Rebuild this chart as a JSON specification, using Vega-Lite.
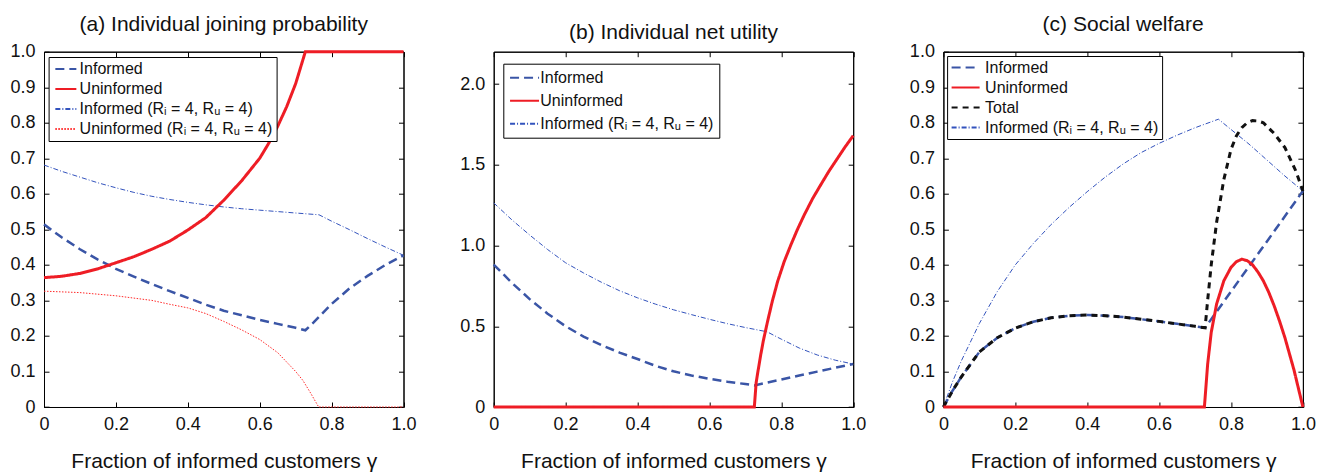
{
  "$schema": "https://vega.github.io/schema/vega-lite/v6.json",
  "padding": {"left": 9, "top": 12.7, "right": 5, "bottom": 0},
  "background": "white",
  "config": {
    "font": "Liberation Sans",
    "view": {"stroke": "#000", "strokeWidth": 1},
    "axis": {"grid": false, "domainColor": "#000", "tickColor": "#000", "labelColor": "#111", "titleColor": "#111", "labelFontSize": 18, "titleFontSize": 21, "titleFontWeight": "normal", "labelFlush": false, "labelOverlap": false, "tickSize": -5, "labelPadding": 14},
    "title": {"fontSize": 21, "fontWeight": "normal", "color": "#111", "offset": 8},
    "legend": {"title": null, "orient": "none", "strokeColor": "#000", "fillColor": "#fff", "padding": 4, "labelFontSize": 16, "labelColor": "#111", "symbolType": "M-1,0H3", "labelLimit": 320, "cornerRadius": 0, "rowPadding": 4, "symbolStrokeWidth": 2}
  },
  "datasets": {
    "a": [
      {"series": "Informed (Rᵢ = 4, Rᵤ = 4)", "x": 0, "y": 0.681}, {"series": "Informed (Rᵢ = 4, Rᵤ = 4)", "x": 0.05, "y": 0.663}, {"series": "Informed (Rᵢ = 4, Rᵤ = 4)", "x": 0.1, "y": 0.647}, {"series": "Informed (Rᵢ = 4, Rᵤ = 4)", "x": 0.15, "y": 0.631}, {"series": "Informed (Rᵢ = 4, Rᵤ = 4)", "x": 0.2, "y": 0.617}, {"series": "Informed (Rᵢ = 4, Rᵤ = 4)", "x": 0.25, "y": 0.604}, {"series": "Informed (Rᵢ = 4, Rᵤ = 4)", "x": 0.3, "y": 0.593}, {"series": "Informed (Rᵢ = 4, Rᵤ = 4)", "x": 0.35, "y": 0.584}, {"series": "Informed (Rᵢ = 4, Rᵤ = 4)", "x": 0.4, "y": 0.576}, {"series": "Informed (Rᵢ = 4, Rᵤ = 4)", "x": 0.45, "y": 0.569}, {"series": "Informed (Rᵢ = 4, Rᵤ = 4)", "x": 0.5, "y": 0.563}, {"series": "Informed (Rᵢ = 4, Rᵤ = 4)", "x": 0.55, "y": 0.558}, {"series": "Informed (Rᵢ = 4, Rᵤ = 4)", "x": 0.6, "y": 0.554}, {"series": "Informed (Rᵢ = 4, Rᵤ = 4)", "x": 0.65, "y": 0.55}, {"series": "Informed (Rᵢ = 4, Rᵤ = 4)", "x": 0.7, "y": 0.546}, {"series": "Informed (Rᵢ = 4, Rᵤ = 4)", "x": 0.765, "y": 0.541}, {"series": "Informed (Rᵢ = 4, Rᵤ = 4)", "x": 0.8, "y": 0.523}, {"series": "Informed (Rᵢ = 4, Rᵤ = 4)", "x": 0.85, "y": 0.499}, {"series": "Informed (Rᵢ = 4, Rᵤ = 4)", "x": 0.9, "y": 0.474}, {"series": "Informed (Rᵢ = 4, Rᵤ = 4)", "x": 0.95, "y": 0.45}, {"series": "Informed (Rᵢ = 4, Rᵤ = 4)", "x": 1, "y": 0.427},
      {"series": "Uninformed (Rᵢ = 4, Rᵤ = 4)", "x": 0, "y": 0.326}, {"series": "Uninformed (Rᵢ = 4, Rᵤ = 4)", "x": 0.1, "y": 0.322}, {"series": "Uninformed (Rᵢ = 4, Rᵤ = 4)", "x": 0.2, "y": 0.313}, {"series": "Uninformed (Rᵢ = 4, Rᵤ = 4)", "x": 0.3, "y": 0.3}, {"series": "Uninformed (Rᵢ = 4, Rᵤ = 4)", "x": 0.35, "y": 0.289}, {"series": "Uninformed (Rᵢ = 4, Rᵤ = 4)", "x": 0.4, "y": 0.279}, {"series": "Uninformed (Rᵢ = 4, Rᵤ = 4)", "x": 0.45, "y": 0.263}, {"series": "Uninformed (Rᵢ = 4, Rᵤ = 4)", "x": 0.5, "y": 0.241}, {"series": "Uninformed (Rᵢ = 4, Rᵤ = 4)", "x": 0.55, "y": 0.217}, {"series": "Uninformed (Rᵢ = 4, Rᵤ = 4)", "x": 0.6, "y": 0.19}, {"series": "Uninformed (Rᵢ = 4, Rᵤ = 4)", "x": 0.65, "y": 0.153}, {"series": "Uninformed (Rᵢ = 4, Rᵤ = 4)", "x": 0.7, "y": 0.1}, {"series": "Uninformed (Rᵢ = 4, Rᵤ = 4)", "x": 0.72, "y": 0.075}, {"series": "Uninformed (Rᵢ = 4, Rᵤ = 4)", "x": 0.74, "y": 0.042}, {"series": "Uninformed (Rᵢ = 4, Rᵤ = 4)", "x": 0.764, "y": 0}, {"series": "Uninformed (Rᵢ = 4, Rᵤ = 4)", "x": 0.85, "y": 0}, {"series": "Uninformed (Rᵢ = 4, Rᵤ = 4)", "x": 1, "y": 0},
      {"series": "Informed", "x": 0, "y": 0.514}, {"series": "Informed", "x": 0.05, "y": 0.477}, {"series": "Informed", "x": 0.1, "y": 0.444}, {"series": "Informed", "x": 0.15, "y": 0.415}, {"series": "Informed", "x": 0.2, "y": 0.389}, {"series": "Informed", "x": 0.25, "y": 0.367}, {"series": "Informed", "x": 0.3, "y": 0.346}, {"series": "Informed", "x": 0.35, "y": 0.326}, {"series": "Informed", "x": 0.4, "y": 0.307}, {"series": "Informed", "x": 0.45, "y": 0.288}, {"series": "Informed", "x": 0.5, "y": 0.271}, {"series": "Informed", "x": 0.55, "y": 0.258}, {"series": "Informed", "x": 0.6, "y": 0.245}, {"series": "Informed", "x": 0.65, "y": 0.234}, {"series": "Informed", "x": 0.7, "y": 0.223}, {"series": "Informed", "x": 0.727, "y": 0.216}, {"series": "Informed", "x": 0.75, "y": 0.238}, {"series": "Informed", "x": 0.8, "y": 0.29}, {"series": "Informed", "x": 0.85, "y": 0.334}, {"series": "Informed", "x": 0.9, "y": 0.369}, {"series": "Informed", "x": 0.95, "y": 0.4}, {"series": "Informed", "x": 1, "y": 0.427},
      {"series": "Uninformed", "x": 0, "y": 0.364}, {"series": "Uninformed", "x": 0.05, "y": 0.368}, {"series": "Uninformed", "x": 0.1, "y": 0.376}, {"series": "Uninformed", "x": 0.15, "y": 0.389}, {"series": "Uninformed", "x": 0.2, "y": 0.406}, {"series": "Uninformed", "x": 0.25, "y": 0.423}, {"series": "Uninformed", "x": 0.3, "y": 0.444}, {"series": "Uninformed", "x": 0.35, "y": 0.467}, {"series": "Uninformed", "x": 0.4, "y": 0.498}, {"series": "Uninformed", "x": 0.45, "y": 0.533}, {"series": "Uninformed", "x": 0.5, "y": 0.582}, {"series": "Uninformed", "x": 0.55, "y": 0.637}, {"series": "Uninformed", "x": 0.6, "y": 0.7}, {"series": "Uninformed", "x": 0.625, "y": 0.742}, {"series": "Uninformed", "x": 0.65, "y": 0.79}, {"series": "Uninformed", "x": 0.675, "y": 0.845}, {"series": "Uninformed", "x": 0.7, "y": 0.91}, {"series": "Uninformed", "x": 0.727, "y": 1}, {"series": "Uninformed", "x": 0.8, "y": 1}, {"series": "Uninformed", "x": 0.9, "y": 1}, {"series": "Uninformed", "x": 1, "y": 1}
    ],
    "b": [
      {"series": "Informed (Rᵢ = 4, Rᵤ = 4)", "x": 0, "y": 1.264}, {"series": "Informed (Rᵢ = 4, Rᵤ = 4)", "x": 0.05, "y": 1.16}, {"series": "Informed (Rᵢ = 4, Rᵤ = 4)", "x": 0.1, "y": 1.065}, {"series": "Informed (Rᵢ = 4, Rᵤ = 4)", "x": 0.15, "y": 0.975}, {"series": "Informed (Rᵢ = 4, Rᵤ = 4)", "x": 0.2, "y": 0.893}, {"series": "Informed (Rᵢ = 4, Rᵤ = 4)", "x": 0.25, "y": 0.83}, {"series": "Informed (Rᵢ = 4, Rᵤ = 4)", "x": 0.3, "y": 0.772}, {"series": "Informed (Rᵢ = 4, Rᵤ = 4)", "x": 0.35, "y": 0.72}, {"series": "Informed (Rᵢ = 4, Rᵤ = 4)", "x": 0.4, "y": 0.676}, {"series": "Informed (Rᵢ = 4, Rᵤ = 4)", "x": 0.45, "y": 0.637}, {"series": "Informed (Rᵢ = 4, Rᵤ = 4)", "x": 0.5, "y": 0.602}, {"series": "Informed (Rᵢ = 4, Rᵤ = 4)", "x": 0.55, "y": 0.572}, {"series": "Informed (Rᵢ = 4, Rᵤ = 4)", "x": 0.6, "y": 0.543}, {"series": "Informed (Rᵢ = 4, Rᵤ = 4)", "x": 0.65, "y": 0.516}, {"series": "Informed (Rᵢ = 4, Rᵤ = 4)", "x": 0.7, "y": 0.492}, {"series": "Informed (Rᵢ = 4, Rᵤ = 4)", "x": 0.76, "y": 0.466}, {"series": "Informed (Rᵢ = 4, Rᵤ = 4)", "x": 0.8, "y": 0.42}, {"series": "Informed (Rᵢ = 4, Rᵤ = 4)", "x": 0.85, "y": 0.365}, {"series": "Informed (Rᵢ = 4, Rᵤ = 4)", "x": 0.9, "y": 0.322}, {"series": "Informed (Rᵢ = 4, Rᵤ = 4)", "x": 0.95, "y": 0.29}, {"series": "Informed (Rᵢ = 4, Rᵤ = 4)", "x": 1, "y": 0.266},
      {"series": "Informed", "x": 0, "y": 0.882}, {"series": "Informed", "x": 0.05, "y": 0.77}, {"series": "Informed", "x": 0.1, "y": 0.668}, {"series": "Informed", "x": 0.15, "y": 0.578}, {"series": "Informed", "x": 0.2, "y": 0.5}, {"series": "Informed", "x": 0.25, "y": 0.436}, {"series": "Informed", "x": 0.3, "y": 0.383}, {"series": "Informed", "x": 0.35, "y": 0.337}, {"series": "Informed", "x": 0.4, "y": 0.297}, {"series": "Informed", "x": 0.45, "y": 0.255}, {"series": "Informed", "x": 0.5, "y": 0.221}, {"series": "Informed", "x": 0.55, "y": 0.195}, {"series": "Informed", "x": 0.6, "y": 0.175}, {"series": "Informed", "x": 0.65, "y": 0.157}, {"series": "Informed", "x": 0.7, "y": 0.142}, {"series": "Informed", "x": 0.725, "y": 0.134}, {"series": "Informed", "x": 0.8, "y": 0.17}, {"series": "Informed", "x": 0.85, "y": 0.195}, {"series": "Informed", "x": 0.9, "y": 0.219}, {"series": "Informed", "x": 0.95, "y": 0.243}, {"series": "Informed", "x": 1, "y": 0.266},
      {"series": "Uninformed", "x": 0, "y": 0}, {"series": "Uninformed", "x": 0.4, "y": 0}, {"series": "Uninformed", "x": 0.725, "y": 0}, {"series": "Uninformed", "x": 0.73, "y": 0.15}, {"series": "Uninformed", "x": 0.735, "y": 0.22}, {"series": "Uninformed", "x": 0.743, "y": 0.326}, {"series": "Uninformed", "x": 0.75, "y": 0.41}, {"series": "Uninformed", "x": 0.762, "y": 0.532}, {"series": "Uninformed", "x": 0.775, "y": 0.655}, {"series": "Uninformed", "x": 0.79, "y": 0.779}, {"series": "Uninformed", "x": 0.808, "y": 0.9}, {"series": "Uninformed", "x": 0.827, "y": 1.006}, {"series": "Uninformed", "x": 0.845, "y": 1.1}, {"series": "Uninformed", "x": 0.864, "y": 1.19}, {"series": "Uninformed", "x": 0.887, "y": 1.29}, {"series": "Uninformed", "x": 0.91, "y": 1.377}, {"series": "Uninformed", "x": 0.933, "y": 1.462}, {"series": "Uninformed", "x": 0.957, "y": 1.542}, {"series": "Uninformed", "x": 0.978, "y": 1.612}, {"series": "Uninformed", "x": 1, "y": 1.68}
    ],
    "c": [
      {"series": "Informed (Rᵢ = 4, Rᵤ = 4)", "x": 0, "y": 0}, {"series": "Informed (Rᵢ = 4, Rᵤ = 4)", "x": 0.025, "y": 0.07}, {"series": "Informed (Rᵢ = 4, Rᵤ = 4)", "x": 0.05, "y": 0.13}, {"series": "Informed (Rᵢ = 4, Rᵤ = 4)", "x": 0.1, "y": 0.235}, {"series": "Informed (Rᵢ = 4, Rᵤ = 4)", "x": 0.15, "y": 0.325}, {"series": "Informed (Rᵢ = 4, Rᵤ = 4)", "x": 0.2, "y": 0.4}, {"series": "Informed (Rᵢ = 4, Rᵤ = 4)", "x": 0.25, "y": 0.46}, {"series": "Informed (Rᵢ = 4, Rᵤ = 4)", "x": 0.3, "y": 0.514}, {"series": "Informed (Rᵢ = 4, Rᵤ = 4)", "x": 0.35, "y": 0.562}, {"series": "Informed (Rᵢ = 4, Rᵤ = 4)", "x": 0.4, "y": 0.606}, {"series": "Informed (Rᵢ = 4, Rᵤ = 4)", "x": 0.45, "y": 0.647}, {"series": "Informed (Rᵢ = 4, Rᵤ = 4)", "x": 0.5, "y": 0.684}, {"series": "Informed (Rᵢ = 4, Rᵤ = 4)", "x": 0.55, "y": 0.716}, {"series": "Informed (Rᵢ = 4, Rᵤ = 4)", "x": 0.6, "y": 0.742}, {"series": "Informed (Rᵢ = 4, Rᵤ = 4)", "x": 0.65, "y": 0.765}, {"series": "Informed (Rᵢ = 4, Rᵤ = 4)", "x": 0.7, "y": 0.786}, {"series": "Informed (Rᵢ = 4, Rᵤ = 4)", "x": 0.765, "y": 0.81}, {"series": "Informed (Rᵢ = 4, Rᵤ = 4)", "x": 0.85, "y": 0.74}, {"series": "Informed (Rᵢ = 4, Rᵤ = 4)", "x": 0.9, "y": 0.695}, {"series": "Informed (Rᵢ = 4, Rᵤ = 4)", "x": 0.95, "y": 0.65}, {"series": "Informed (Rᵢ = 4, Rᵤ = 4)", "x": 1, "y": 0.608},
      {"series": "Informed", "x": 0, "y": 0}, {"series": "Informed", "x": 0.025, "y": 0.045}, {"series": "Informed", "x": 0.05, "y": 0.085}, {"series": "Informed", "x": 0.1, "y": 0.155}, {"series": "Informed", "x": 0.15, "y": 0.195}, {"series": "Informed", "x": 0.2, "y": 0.222}, {"series": "Informed", "x": 0.25, "y": 0.24}, {"series": "Informed", "x": 0.3, "y": 0.251}, {"series": "Informed", "x": 0.35, "y": 0.257}, {"series": "Informed", "x": 0.4, "y": 0.259}, {"series": "Informed", "x": 0.45, "y": 0.257}, {"series": "Informed", "x": 0.5, "y": 0.253}, {"series": "Informed", "x": 0.55, "y": 0.247}, {"series": "Informed", "x": 0.6, "y": 0.241}, {"series": "Informed", "x": 0.65, "y": 0.234}, {"series": "Informed", "x": 0.7, "y": 0.227}, {"series": "Informed", "x": 0.728, "y": 0.223}, {"series": "Informed", "x": 0.8, "y": 0.325}, {"series": "Informed", "x": 0.9, "y": 0.466}, {"series": "Informed", "x": 1, "y": 0.608},
      {"series": "Total", "x": 0, "y": 0}, {"series": "Total", "x": 0.025, "y": 0.045}, {"series": "Total", "x": 0.05, "y": 0.085}, {"series": "Total", "x": 0.1, "y": 0.155}, {"series": "Total", "x": 0.15, "y": 0.195}, {"series": "Total", "x": 0.2, "y": 0.222}, {"series": "Total", "x": 0.25, "y": 0.24}, {"series": "Total", "x": 0.3, "y": 0.251}, {"series": "Total", "x": 0.35, "y": 0.257}, {"series": "Total", "x": 0.4, "y": 0.259}, {"series": "Total", "x": 0.45, "y": 0.257}, {"series": "Total", "x": 0.5, "y": 0.253}, {"series": "Total", "x": 0.55, "y": 0.247}, {"series": "Total", "x": 0.6, "y": 0.241}, {"series": "Total", "x": 0.65, "y": 0.234}, {"series": "Total", "x": 0.7, "y": 0.227}, {"series": "Total", "x": 0.728, "y": 0.223}, {"series": "Total", "x": 0.735, "y": 0.3}, {"series": "Total", "x": 0.745, "y": 0.4}, {"series": "Total", "x": 0.76, "y": 0.52}, {"series": "Total", "x": 0.78, "y": 0.64}, {"series": "Total", "x": 0.8, "y": 0.725}, {"series": "Total", "x": 0.815, "y": 0.763}, {"series": "Total", "x": 0.83, "y": 0.786}, {"series": "Total", "x": 0.845, "y": 0.8}, {"series": "Total", "x": 0.86, "y": 0.806}, {"series": "Total", "x": 0.875, "y": 0.805}, {"series": "Total", "x": 0.89, "y": 0.8}, {"series": "Total", "x": 0.92, "y": 0.77}, {"series": "Total", "x": 0.95, "y": 0.73}, {"series": "Total", "x": 0.98, "y": 0.665}, {"series": "Total", "x": 1, "y": 0.608},
      {"series": "Uninformed", "x": 0, "y": 0}, {"series": "Uninformed", "x": 0.4, "y": 0}, {"series": "Uninformed", "x": 0.726, "y": 0}, {"series": "Uninformed", "x": 0.735, "y": 0.12}, {"series": "Uninformed", "x": 0.745, "y": 0.21}, {"series": "Uninformed", "x": 0.76, "y": 0.29}, {"series": "Uninformed", "x": 0.78, "y": 0.355}, {"series": "Uninformed", "x": 0.8, "y": 0.393}, {"series": "Uninformed", "x": 0.815, "y": 0.409}, {"series": "Uninformed", "x": 0.83, "y": 0.416}, {"series": "Uninformed", "x": 0.845, "y": 0.412}, {"series": "Uninformed", "x": 0.86, "y": 0.4}, {"series": "Uninformed", "x": 0.875, "y": 0.38}, {"series": "Uninformed", "x": 0.89, "y": 0.355}, {"series": "Uninformed", "x": 0.905, "y": 0.323}, {"series": "Uninformed", "x": 0.92, "y": 0.285}, {"series": "Uninformed", "x": 0.935, "y": 0.242}, {"series": "Uninformed", "x": 0.95, "y": 0.195}, {"series": "Uninformed", "x": 0.975, "y": 0.105}, {"series": "Uninformed", "x": 1, "y": 0}
    ]
  },
  "spacing": 89.7,
  "bounds": "flush",
  "resolve": {"scale": {"x": "independent", "y": "independent", "color": "independent", "strokeDash": "independent"}, "legend": {"color": "independent", "strokeDash": "independent"}},
  "hconcat": [
    {
      "width": 359.5, "height": 355.3,
      "title": {"text": "(a) Individual joining probability"},
      "data": {"name": "a"},
      "layer": [
        {
          "mark": {"type": "line", "strokeCap": "butt", "strokeJoin": "miter"},
          "encoding": {
            "x": {"field": "x", "type": "quantitative", "scale": {"domain": [0, 1]}, "axis": {"orient": "bottom", "values": [0, 0.2, 0.4, 0.6, 0.8, 1], "labelExpr": "datum.value == 0 ? '0' : format(datum.value, '.1f')", "title": "Fraction of informed customers γ", "titlePadding": 17, "labelPadding": 13}},
            "y": {"field": "y", "type": "quantitative", "scale": {"domain": [0, 1]}, "axis": {"orient": "left", "values": [0, 0.1, 0.2, 0.3, 0.4, 0.5, 0.6, 0.7, 0.8, 0.9, 1], "labelExpr": "datum.value == 0 ? '0' : format(datum.value, '.1f')", "title": null}},
            "color": {"field": "series", "type": "nominal", "scale": {"domain": ["Informed", "Uninformed", "Informed (Rᵢ = 4, Rᵤ = 4)", "Uninformed (Rᵢ = 4, Rᵤ = 4)"], "range": ["#3a55a6", "#ee1d25", "#3353bd", "#ff2a2a"]}, "legend": {"legendX": 4.6, "legendY": 5.3, "symbolSize": 110.25, "labelOffset": 11}},
            "strokeDash": {"field": "series", "type": "nominal", "scale": {"domain": ["Informed", "Uninformed", "Informed (Rᵢ = 4, Rᵤ = 4)", "Uninformed (Rᵢ = 4, Rᵤ = 4)"], "range": [[9, 5], [1, 0], [5, 2, 1, 2], [1.5, 1.5]]}, "legend": {"legendX": 4.6, "legendY": 5.3, "symbolSize": 110.25, "labelOffset": 11}},
            "strokeWidth": {"condition": [{"test": "indexof(datum.series, '(') >= 0", "value": 1}, {"test": "datum.series == 'Informed'", "value": 2.5}], "value": 3}
          }
        },
        {
          "mark": {"type": "line", "opacity": 0},
          "encoding": {
            "x": {"field": "x", "type": "quantitative", "scale": {"domain": [0, 1]}, "axis": {"orient": "top", "values": [0, 0.2, 0.4, 0.6, 0.8, 1], "labels": false, "title": null}},
            "y": {"field": "y", "type": "quantitative", "scale": {"domain": [0, 1]}, "axis": {"orient": "right", "values": [0, 0.1, 0.2, 0.3, 0.4, 0.5, 0.6, 0.7, 0.8, 0.9, 1], "labels": false, "title": null}}
          }
        }
      ],
      "resolve": {"axis": {"x": "independent", "y": "independent"}}
    },
    {
      "width": 359.5, "height": 355.3,
      "title": {"text": "(b) Individual net utility"},
      "data": {"name": "b"},
      "layer": [
        {
          "mark": {"type": "line", "strokeCap": "butt", "strokeJoin": "miter"},
          "encoding": {
            "x": {"field": "x", "type": "quantitative", "scale": {"domain": [0, 1]}, "axis": {"orient": "bottom", "values": [0, 0.2, 0.4, 0.6, 0.8, 1], "labelExpr": "datum.value == 0 ? '0' : format(datum.value, '.1f')", "title": "Fraction of informed customers γ", "titlePadding": 17, "labelPadding": 13}},
            "y": {"field": "y", "type": "quantitative", "scale": {"domain": [0, 2.2]}, "axis": {"orient": "left", "values": [0, 0.5, 1, 1.5, 2], "labelExpr": "datum.value == 0 ? '0' : format(datum.value, '.1f')", "title": null}},
            "color": {"field": "series", "type": "nominal", "scale": {"domain": ["Informed", "Uninformed", "Informed (Rᵢ = 4, Rᵤ = 4)"], "range": ["#3a55a6", "#ee1d25", "#3353bd"]}, "legend": {"legendX": 9.6, "legendY": 12, "padding": 5.5, "symbolSize": 210.25, "rowPadding": 6, "labelOffset": 14.5}},
            "strokeDash": {"field": "series", "type": "nominal", "scale": {"domain": ["Informed", "Uninformed", "Informed (Rᵢ = 4, Rᵤ = 4)"], "range": [[9, 5], [1, 0], [5, 2, 1, 2]]}, "legend": {"legendX": 9.6, "legendY": 12, "padding": 5.5, "symbolSize": 210.25, "rowPadding": 6, "labelOffset": 14.5}},
            "strokeWidth": {"condition": [{"test": "indexof(datum.series, '(') >= 0", "value": 1}, {"test": "datum.series == 'Informed'", "value": 2.5}], "value": 3}
          }
        },
        {
          "mark": {"type": "line", "opacity": 0},
          "encoding": {
            "x": {"field": "x", "type": "quantitative", "scale": {"domain": [0, 1]}, "axis": {"orient": "top", "values": [0, 0.2, 0.4, 0.6, 0.8, 1], "labels": false, "title": null}},
            "y": {"field": "y", "type": "quantitative", "scale": {"domain": [0, 2.2]}, "axis": {"orient": "right", "values": [0, 0.5, 1, 1.5, 2], "labels": false, "title": null}}
          }
        }
      ],
      "resolve": {"axis": {"x": "independent", "y": "independent"}}
    },
    {
      "width": 359.5, "height": 355.3,
      "title": {"text": "(c) Social welfare"},
      "data": {"name": "c"},
      "layer": [
        {
          "mark": {"type": "line", "strokeCap": "butt", "strokeJoin": "miter"},
          "encoding": {
            "x": {"field": "x", "type": "quantitative", "scale": {"domain": [0, 1]}, "axis": {"orient": "bottom", "values": [0, 0.2, 0.4, 0.6, 0.8, 1], "labelExpr": "datum.value == 0 ? '0' : format(datum.value, '.1f')", "title": "Fraction of informed customers γ", "titlePadding": 17, "labelPadding": 13}},
            "y": {"field": "y", "type": "quantitative", "scale": {"domain": [0, 1]}, "axis": {"orient": "left", "values": [0, 0.1, 0.2, 0.3, 0.4, 0.5, 0.6, 0.7, 0.8, 0.9, 1], "labelExpr": "datum.value == 0 ? '0' : format(datum.value, '.1f')", "title": null}},
            "color": {"field": "series", "type": "nominal", "scale": {"domain": ["Informed", "Uninformed", "Total", "Informed (Rᵢ = 4, Rᵤ = 4)"], "range": ["#3a55a6", "#ee1d25", "#111111", "#3353bd"]}, "legend": {"legendX": 3.7, "legendY": 4.3, "padding": 3.5, "symbolSize": 196, "labelOffset": 18.5}},
            "strokeDash": {"field": "series", "type": "nominal", "scale": {"domain": ["Informed", "Uninformed", "Total", "Informed (Rᵢ = 4, Rᵤ = 4)"], "range": [[9, 5], [1, 0], [6, 5], [5, 2, 1, 2]]}, "legend": {"legendX": 3.7, "legendY": 4.3, "padding": 3.5, "symbolSize": 196, "labelOffset": 18.5}},
            "strokeWidth": {"condition": [{"test": "indexof(datum.series, '(') >= 0", "value": 1}, {"test": "datum.series == 'Informed'", "value": 2.5}], "value": 3}
          }
        },
        {
          "mark": {"type": "line", "opacity": 0},
          "encoding": {
            "x": {"field": "x", "type": "quantitative", "scale": {"domain": [0, 1]}, "axis": {"orient": "top", "values": [0, 0.2, 0.4, 0.6, 0.8, 1], "labels": false, "title": null}},
            "y": {"field": "y", "type": "quantitative", "scale": {"domain": [0, 1]}, "axis": {"orient": "right", "values": [0, 0.1, 0.2, 0.3, 0.4, 0.5, 0.6, 0.7, 0.8, 0.9, 1], "labels": false, "title": null}}
          }
        }
      ],
      "resolve": {"axis": {"x": "independent", "y": "independent"}}
    }
  ]
}
